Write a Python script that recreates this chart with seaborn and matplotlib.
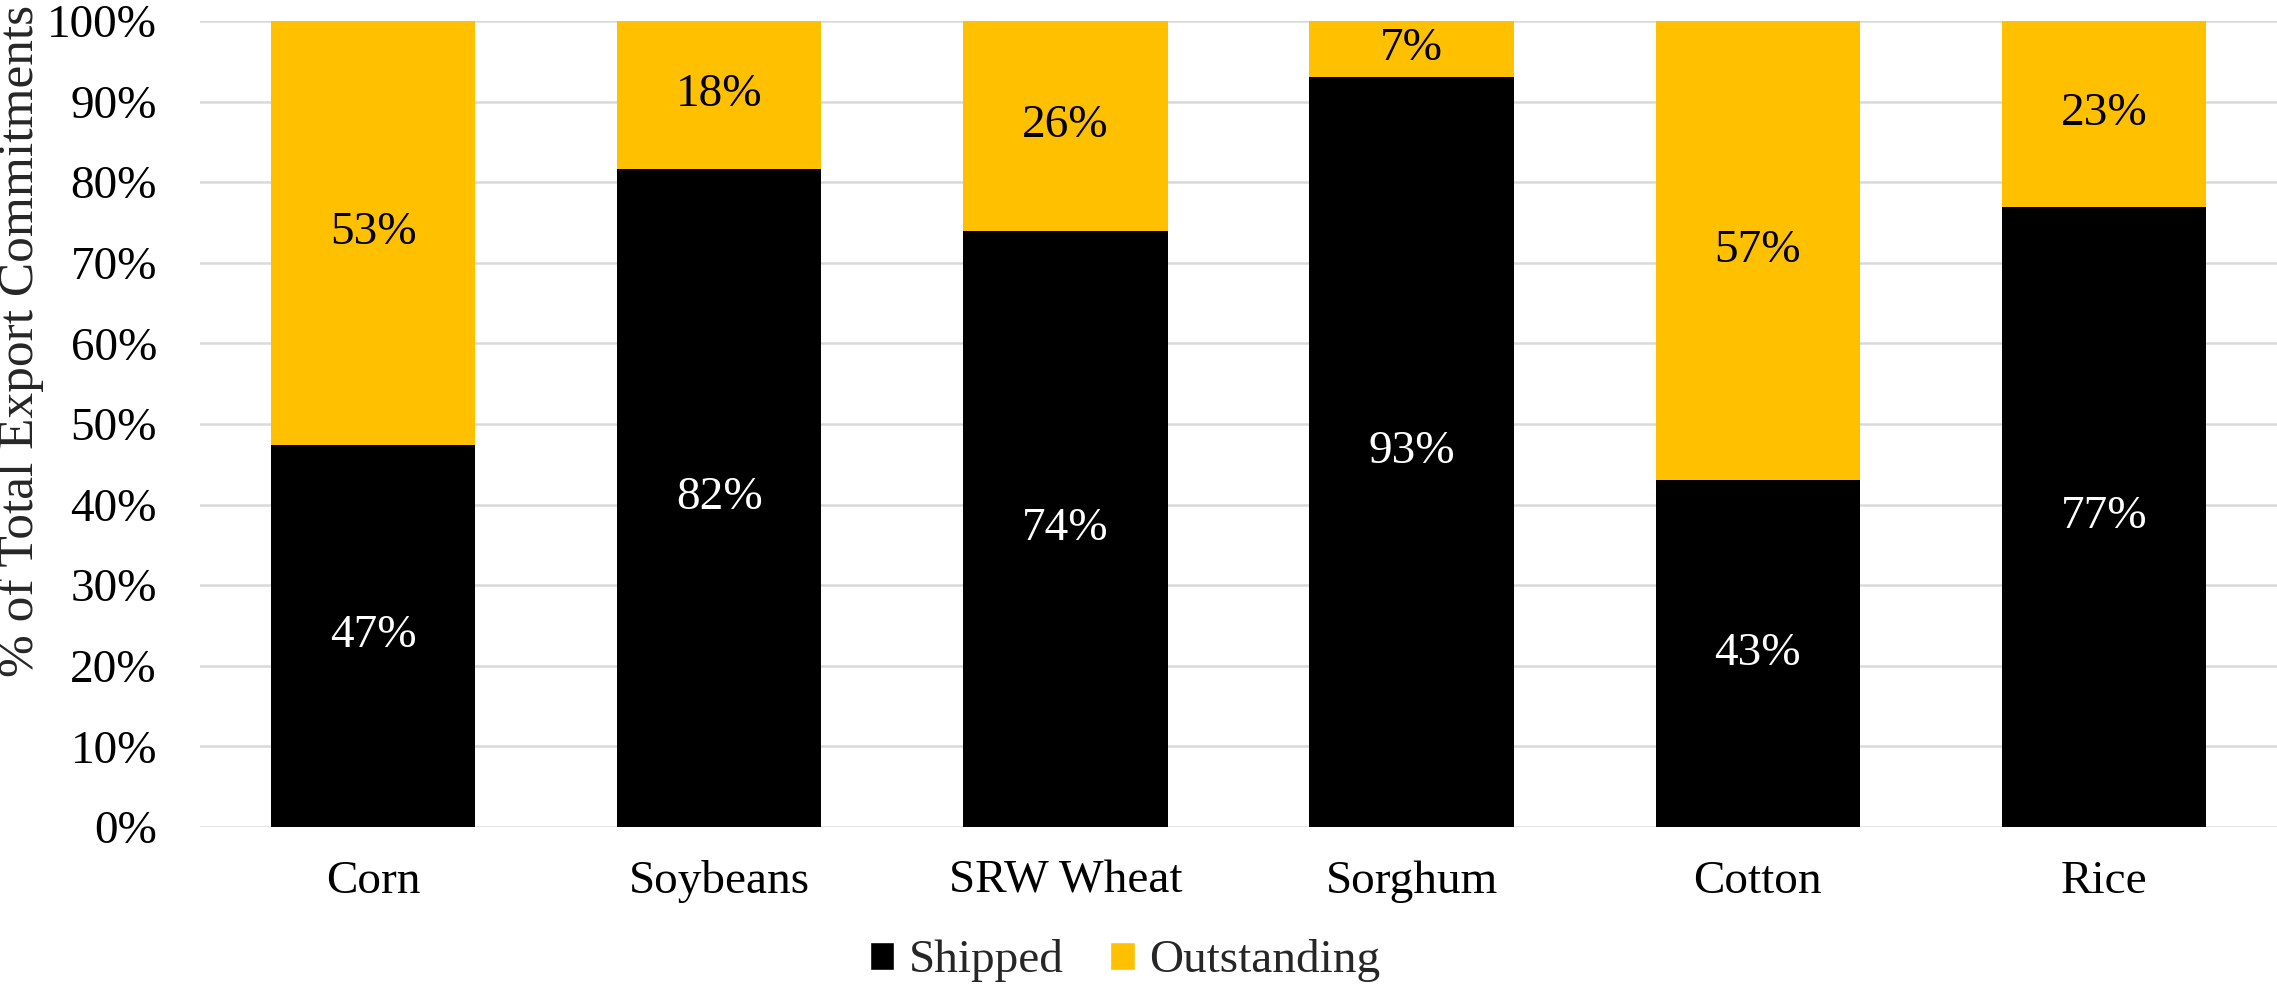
import numpy as np
import pandas as pd
import matplotlib
matplotlib.use("Agg")
import matplotlib.pyplot as plt
from matplotlib.patches import Patch
import seaborn as sns

CATEGORIES = ["Corn", "Soybeans", "SRW Wheat", "Sorghum", "Cotton", "Rice"]
SHIPPED = [47.4, 81.6, 74.0, 93.0, 43.1, 76.9]
OUTSTANDING = [52.6, 18.4, 26.0, 7.0, 56.9, 23.1]
Y_TICKS = [0, 10, 20, 30, 40, 50, 60, 70, 80, 90, 100]

BLACK = "#000000"
GOLD = "#FFC000"
FONT = "Liberation Serif"
FS = 34

df = pd.DataFrame({"crop": CATEGORIES, "shipped": SHIPPED, "outstanding": OUTSTANDING})
df["total"] = df["shipped"] + df["outstanding"]

sns.set_theme(style="white")
plt.rcParams["font.family"] = [FONT, "DejaVu Serif"]

fig = plt.figure(figsize=(22.77, 9.86), dpi=100)
ax = fig.add_axes([200 / 2277, 1 - 827 / 986, 1 - 200 / 2277, (827 - 21) / 986])

# stacked bars: totals in gold, shipped in black on top
sns.barplot(data=df, x="crop", y="total", color=GOLD, width=0.59, saturation=1, ax=ax)
sns.barplot(data=df, x="crop", y="shipped", color=BLACK, width=0.59, saturation=1, ax=ax)
for p in ax.patches:
    p.set_edgecolor("none")

# data labels in the middle of each segment
for i, row in df.iterrows():
    ax.text(i, row["shipped"] / 2, f"{row['shipped']:.0f}%", ha="center", va="center",
            color="white", fontsize=FS)
    ax.text(i, row["shipped"] + row["outstanding"] / 2, f"{row['outstanding']:.0f}%",
            ha="center", va="center", color="black", fontsize=FS)

ax.set_ylim(0, 100)
ax.set_xlim(-0.5, len(CATEGORIES) - 0.5)
ax.set_yticks(Y_TICKS)
ax.set_yticklabels([f"{t}%" for t in Y_TICKS], fontsize=FS)
ax.set_xticks(range(len(CATEGORIES)))
ax.set_xticklabels(CATEGORIES, fontsize=FS)
ax.set_xlabel("")
ax.set_ylabel("")
ax.tick_params(axis="both", length=0, colors="black")
ax.tick_params(axis="y", pad=31)
ax.tick_params(axis="x", pad=24)
ax.yaxis.grid(True, color="#D9D9D9", linewidth=1.8)
ax.set_axisbelow(True)
sns.despine(ax=ax, left=True, bottom=True)

fig.text(21 / 2277, 1 - 341 / 986, "% of Total Export Commitments", rotation=90,
         ha="center", va="center", fontsize=37)

handles = [Patch(facecolor=BLACK, label="Shipped"), Patch(facecolor=GOLD, label="Outstanding")]
fig.legend(handles=handles, loc="center", bbox_to_anchor=(1125 / 2277, 1 - 961 / 986),
           ncol=2, frameon=False, fontsize=FS, handlelength=0.52, handleheight=0.52,
           handletextpad=0.3, columnspacing=1.0, borderpad=0)

fig.savefig("out.png", dpi=100)
